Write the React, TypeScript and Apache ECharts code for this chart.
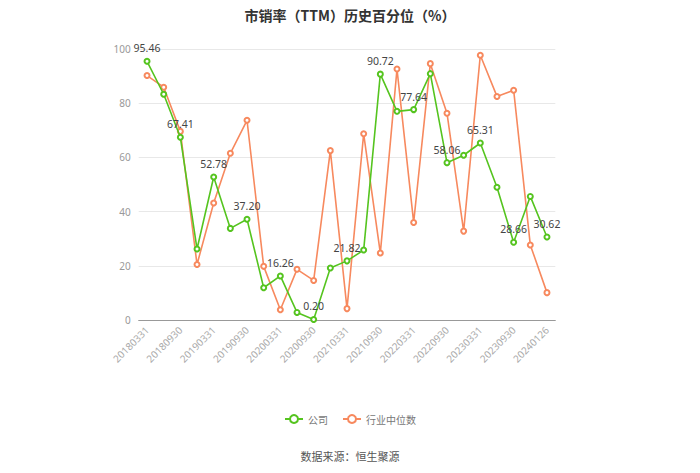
import React, { useEffect, useRef } from "react";
import * as echarts from "echarts";

const categories = [
  "20180331","20180630","20180930","20181231",
  "20190331","20190630","20190930","20191231",
  "20200331","20200630","20200930","20201231",
  "20210331","20210630","20210930","20211231",
  "20220331","20220630","20220930","20221231",
  "20230331","20230630","20230930","20231231",
  "20240126",
];
const companyValues = [
  95.46, 83.3, 67.41, 26.2, 52.78, 33.8, 37.2, 11.9, 16.26, 2.8, 0.2, 19.2,
  21.82, 25.8, 90.72, 77.0, 77.64, 90.9, 58.06, 60.8, 65.31, 49.0, 28.66, 45.6, 30.62,
];
const industryValues = [
  90.2, 85.9, 69.6, 20.5, 43.2, 61.5, 73.7, 19.8, 3.8, 18.7, 14.6, 62.5,
  4.2, 68.7, 24.7, 92.6, 36.0, 94.6, 76.3, 32.8, 97.7, 82.5, 84.8, 27.7, 10.1,
];
const yTicks = [0, 20, 40, 60, 80, 100];

const GREEN = "#55c41f";
const ORANGE = "#f7895e";

export default function App() {
  const ref = useRef<HTMLDivElement>(null);
  useEffect(() => {
    if (!ref.current) return;
    const chart = echarts.init(ref.current, undefined, { renderer: "svg" });
    chart.setOption({
      animation: false,
      title: {
        text: "市销率（TTM）历史百分位（%）",
        left: "center",
        top: 3,
        textStyle: { fontSize: 14, fontWeight: "bold", color: "#333", fontFamily: "Noto Sans CJK SC" },
      },
      legend: {
        top: 409,
        left: "center",
        itemWidth: 18,
        itemHeight: 10,
        itemGap: 14,
        textStyle: { fontSize: 10, color: "#777", fontFamily: "Noto Sans CJK SC" },
        data: ["公司", "行业中位数"],
      },
      graphic: [
        {
          type: "text",
          left: "center",
          top: 450,
          style: { text: "数据来源：恒生聚源", fontSize: 11, fill: "#555", fontFamily: "Noto Sans CJK SC" },
        },
      ],
      grid: { left: 138.7, right: 144.7, top: 49, bottom: 153 },
      xAxis: {
        type: "category",
        data: categories,
        boundaryGap: true,
        axisLine: { lineStyle: { color: "#999" } },
        axisTick: { alignWithLabel: true, interval: 1, lineStyle: { color: "#999" } },
        axisLabel: { interval: 1, rotate: 45, fontSize: 10, color: "#aaa", fontFamily: "Noto Sans" },
      },
      yAxis: {
        type: "value",
        min: yTicks[0],
        max: yTicks[yTicks.length - 1],
        interval: 20,
        axisLine: { show: false },
        axisTick: { show: false },
        axisLabel: { fontSize: 10, color: "#999", fontFamily: "Noto Sans" },
        splitLine: { lineStyle: { color: "#e8e8e8" } },
      },
      series: [
        {
          name: "公司",
          type: "line",
          data: companyValues,
          color: GREEN,
          symbol: "emptyCircle",
          symbolSize: 5,
          lineStyle: { width: 1.6, color: GREEN },
          itemStyle: { color: GREEN },
          label: {
            show: true,
            position: "top",
            distance: 4,
            fontSize: 10.5,
            color: "#444",
            fontFamily: "Noto Sans",
            formatter: (p: any) => (p.dataIndex % 2 === 0 ? p.value.toFixed(2) : ""),
          },
          z: 3,
        },
        {
          name: "行业中位数",
          type: "line",
          data: industryValues,
          color: ORANGE,
          symbol: "emptyCircle",
          symbolSize: 5,
          lineStyle: { width: 1.6, color: ORANGE },
          itemStyle: { color: ORANGE },
          z: 2,
        },
      ],
    });
    return () => chart.dispose();
  }, []);
  return (
    <div
      ref={ref}
      style={{ position: "absolute", left: 0, top: 0, width: 700, height: 473 }}
    />
  );
}
